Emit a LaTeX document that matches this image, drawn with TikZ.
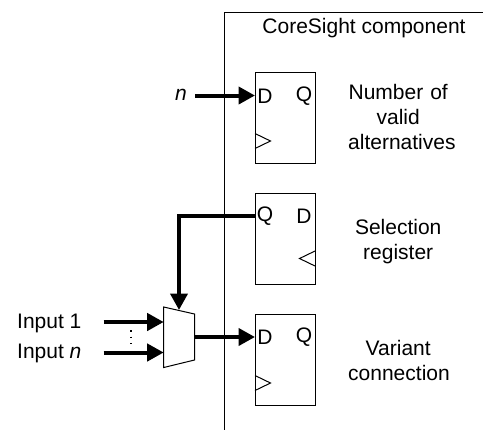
\documentclass[tikz,border=0pt]{standalone}
\usepackage{fontspec}
\setmainfont{Liberation Sans}
\usetikzlibrary{arrows.meta}
\usetikzlibrary{positioning}
\usetikzlibrary{calc}
\tikzset{
	x=1bp, y=1bp,
	node distance=30bp,
	every node/.append style={align=center, font=\fontsize{21bp}{25bp}\selectfont},
	reg/.style={draw, line width=1bp, minimum width=60bp, minimum height=91bp, inner sep=0pt, outer sep=0pt},
	pin/.style={inner sep=0pt},
	lbl/.style={inner sep=0pt},
	bus/.style={line width=4bp, -{Triangle[length=16.5bp,width=17bp]}},
	thin line/.style={line width=1bp}
}

\begin{document}
\begin{tikzpicture}
	\useasboundingbox (0,0) rectangle (483,-430);

	% registers
	\node [reg] at (285,-118) (numreg) {};
	\node [reg, below=of numreg] (selreg) {};
	\node [reg, below=of selreg] (varreg) {};

	% component edge
	\coordinate (edgetop) at (483,-12);
	\coordinate (edgecorner) at (224.5,-12);
	\coordinate (edgebottom) at (224.5,-430);
	\draw [thin line] (edgetop) -- (edgecorner) -- (edgebottom);
	\node [lbl] at (364,-28) (title) {CoreSight component};

	% pins
	\node [pin] at (265,-96) (numd) {D};
	\node [pin] at (304,-96) (numq) {Q};
	\node [pin] at (265,-216.5) (selq) {Q};
	\node [pin] at (304,-216.5) (seld) {D};
	\node [pin] at (265,-337.5) (vard) {D};
	\node [pin] at (304,-337.5) (varq) {Q};

	% clocks
	\draw [thin line] ($(numreg.south west)+(0,30)$) -- ++(15.5,-7.5) -- ++(-15.5,-7.5);
	\draw [thin line] ($(selreg.south east)+(0,33.5)$) -- ++(-15.5,-7.5) -- ++(15.5,-7.5);
	\draw [thin line] ($(varreg.south west)+(0,30)$) -- ++(15.5,-7.5) -- ++(-15.5,-7.5);

	% descriptions
	\node [lbl, right=33bp of numreg, yshift=1.5bp, text width=100bp] (numtext) {Number of\\valid\\alternatives};
	\node [lbl, right=33bp of selreg, yshift=-2.5bp, text width=100bp] (seltext) {Selection\\register};
	\node [lbl, right=33bp of varreg, yshift=-0.5bp, text width=100bp] (vartext) {Variant\\connection};

	% mux
	\coordinate (muxtl) at (163.7,-307);
	\coordinate (muxtr) at (194.5,-314);
	\coordinate (muxbr) at (194.5,-360);
	\coordinate (muxbl) at (163.7,-367.5);
	\draw [thin line, fill=white] (muxtl) -- (muxtr) -- (muxbr) -- (muxbl) -- cycle;
	\coordinate (muxin1) at (163.7,-322);
	\coordinate (muxinn) at (163.7,-352.5);
	\coordinate (muxout) at (194.5,-337);
	\coordinate (muxsel) at (179,-310);

	% inputs
	\node [lbl, anchor=west] at (17,-323) (in1) {Input 1};
	\node [lbl, anchor=west] at (17,-353) (inn) {Input \textit{n}};
	\node [lbl] at (181,-95) (nval) {\textit{n}};
	\coordinate (in1s) at (103.5,-322);
	\coordinate (inns) at (103.5,-352.5);
	\coordinate (ns) at (195,-95.5);
	\coordinate (selcorner) at (179,-216);
	\coordinate (dotstop) at (131,-330);
	\coordinate (dotsbot) at (131,-344);
	\draw [line width=1.6bp, dash pattern=on 1.6bp off 4.9bp] (dotstop) -- (dotsbot);

	\draw [bus] (in1s) -- (muxin1);
	\draw [bus] (inns) -- (muxinn);
	\draw [bus] (muxout) -- (varreg.west |- muxout);
	\draw [bus] (ns) -- (numreg.west |- ns);
	\draw [bus] (selreg.west |- selcorner) -- (selcorner) -- (muxsel);

\end{tikzpicture}
\end{document}
